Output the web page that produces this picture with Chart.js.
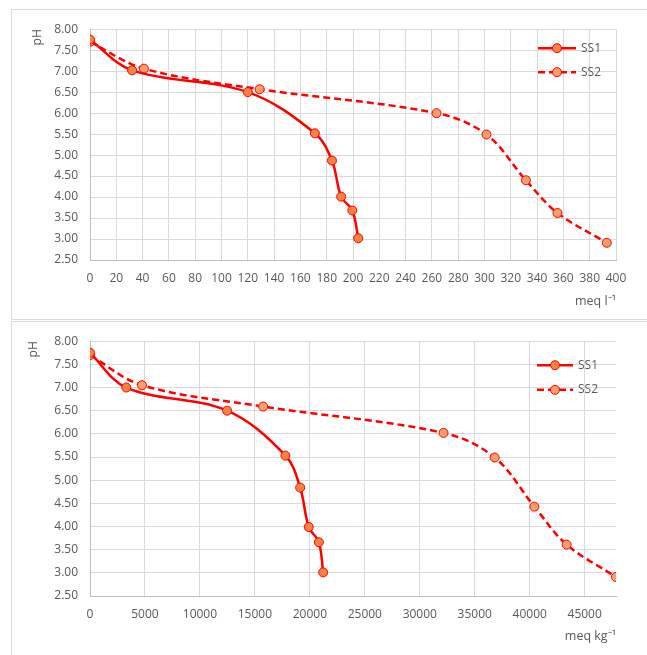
<!DOCTYPE html>
<html>
<head>
<meta charset="utf-8">
<script src="https://cdn.jsdelivr.net/npm/chart.js@4"></script>
<style>
  html, body { margin: 0; padding: 0; background: #fff; overflow: hidden; }
  body { width: 647px; height: 655px; position: relative; }
  .panel { position: absolute; left: 11px; width: 650px; border: 1px solid #d9d9d9; box-sizing: border-box; }
  #p1 { top: 9px; height: 311px; }
  #p2 { top: 321px; height: 340px; }
  canvas { position: absolute; }
  #c1 { left: 12px; top: 10px; }
  #c2 { left: 12px; top: 322px; }
</style>
</head>
<body>
<div class="panel" id="p1"></div>
<div class="panel" id="p2"></div>
<canvas id="c1" width="635" height="308"></canvas>
<canvas id="c2" width="635" height="333"></canvas>
<script>
"use strict";
// titration curves, meq per litre
const ss1LitreX = [0, 32, 120, 171, 184, 191, 199.5, 204];
const ss1LitrePH = [7.75, 7.02, 6.5, 5.52, 4.87, 4.01, 3.68, 3.02];
const ss2LitreX = [0, 41, 129, 263.5, 301.5, 331.5, 355.5, 393];
const ss2LitrePH = [7.7, 7.06, 6.57, 6.0, 5.49, 4.4, 3.62, 2.91];

// same curves, meq per kg
const ss1KgX = [0, 3300, 12470, 17780, 19120, 19900, 20820, 21210];
const ss1KgPH = [7.75, 7.0, 6.5, 5.53, 4.84, 3.99, 3.66, 3.01];
const ss2KgX = [0, 4730, 15750, 32160, 36810, 40420, 43360, 47850];
const ss2KgPH = [7.7, 7.05, 6.59, 6.02, 5.49, 4.43, 3.61, 2.91];

const seriesNames = ["SS1", "SS2"];
const yTicks = [2.5, 3, 3.5, 4, 4.5, 5, 5.5, 6, 6.5, 7, 7.5, 8];
const xTicksLitre = [0, 20, 40, 60, 80, 100, 120, 140, 160, 180, 200, 220, 240, 260, 280, 300, 320, 340, 360, 380, 400];
const xTicksKg = [0, 5000, 10000, 15000, 20000, 25000, 30000, 35000, 40000, 45000];

const FONT = "'Open Sans', 'Liberation Sans', sans-serif";
const TEXT = "#595959";
const GRID = "#d9d9d9";

const toPoints = (xs, ys) => xs.map((x, i) => ({ x: x, y: ys[i] }));

const insideLegend = {
  id: "insideLegend",
  afterDraw(chart, args, opts) {
    const ctx = chart.ctx;
    const area = chart.chartArea;
    chart.data.datasets.forEach((ds, i) => {
      const y = area.top + opts.top + i * opts.gap;
      const x0 = area.right - opts.lineStart;
      const x1 = x0 + opts.lineLen;
      ctx.save();
      ctx.strokeStyle = ds.borderColor;
      ctx.lineWidth = ds.borderWidth;
      ctx.setLineDash(ds.borderDash || []);
      ctx.beginPath();
      ctx.moveTo(x0, y);
      ctx.lineTo(x1, y);
      ctx.stroke();
      ctx.setLineDash([]);
      ctx.beginPath();
      ctx.arc((x0 + x1) / 2, y, ds.pointRadius, 0, Math.PI * 2);
      ctx.fillStyle = ds.pointBackgroundColor;
      ctx.fill();
      ctx.lineWidth = 1;
      ctx.strokeStyle = ds.pointBorderColor;
      ctx.stroke();
      ctx.fillStyle = TEXT;
      ctx.font = "12px " + FONT;
      ctx.textBaseline = "middle";
      ctx.textAlign = "left";
      ctx.fillText(ds.label, x1 + 5, y);
      ctx.restore();
    });
  },
};

const makeDatasets = (ss1, ss2) => [
  {
    label: seriesNames[0],
    data: ss1,
    borderColor: "#ff0000",
    borderWidth: 2.5,
    pointRadius: 4.5,
    pointBackgroundColor: "#f5823f",
    pointBorderColor: "#ff0000",
    pointBorderWidth: 1,
    tension: 0.35,
  },
  {
    label: seriesNames[1],
    data: ss2,
    borderColor: "#ff0000",
    borderWidth: 2.5,
    borderDash: [7, 4],
    pointRadius: 4.5,
    pointBackgroundColor: "#f9a06a",
    pointBorderColor: "#ff0000",
    pointBorderWidth: 1,
    tension: 0.35,
  },
];

const makeChart = (canvasId, ss1, ss2, cfg) =>
  new Chart(document.getElementById(canvasId), {
    type: "line",
    data: { datasets: makeDatasets(ss1, ss2) },
    plugins: [insideLegend],
    options: {
      responsive: false,
      animation: false,
      layout: { padding: { top: cfg.padTop, right: 31, left: 0, bottom: 0 } },
      plugins: {
        legend: { display: false },
        tooltip: { enabled: false },
        insideLegend: cfg.legend,
      },
      scales: {
        x: {
          type: "linear",
          min: 0,
          max: cfg.xMax,
          afterBuildTicks: (s) => { s.ticks = cfg.xTicks.map((v) => ({ value: v })); },
          afterFit: (s) => { s.height = cfg.xHeight; },
          grid: { color: GRID, drawTicks: false },
          border: { color: "#bfbfbf" },
          ticks: {
            color: TEXT,
            font: { family: FONT, size: 12 },
            padding: 11,
            maxRotation: 0,
            autoSkip: false,
            callback: (v) => String(v),
          },
          title: {
            display: true,
            text: cfg.xTitle,
            align: "end",
            color: TEXT,
            font: { family: FONT, size: 12.5 },
            padding: { top: 0, bottom: cfg.xTitlePad },
          },
        },
        y: {
          min: 2.5,
          max: 8,
          afterBuildTicks: (s) => { s.ticks = yTicks.map((v) => ({ value: v })); },
          afterFit: (s) => { s.width = 78; },
          grid: { color: GRID, drawTicks: false },
          border: { color: "#bfbfbf" },
          ticks: { color: TEXT, font: { family: FONT, size: 12 }, padding: 12, callback: (v) => v.toFixed(2) },
          title: {
            display: true,
            text: "pH",
            align: "end",
            color: TEXT,
            font: { family: FONT, size: 12 },
            padding: { top: cfg.yTitlePad, bottom: 0 },
          },
        },
      },
    },
  });

makeChart("c1", toPoints(ss1LitreX, ss1LitrePH), toPoints(ss2LitreX, ss2LitrePH), {
  padTop: 15,
  xMax: 400,
  xTicks: xTicksLitre,
  xHeight: 58,
  xTitle: "meq l\u207B\u00B9",
  xTitlePad: 9,
  yTitlePad: 18,
  legend: { top: 19, gap: 24, lineStart: 78, lineLen: 38 },
});

makeChart("c2", toPoints(ss1KgX, ss1KgPH), toPoints(ss2KgX, ss2KgPH), {
  padTop: 15,
  xMax: 47850,
  xTicks: xTicksKg,
  xHeight: 59,
  xTitle: "meq kg\u207B\u00B9",
  xTitlePad: 11,
  yTitlePad: 14,
  legend: { top: 24, gap: 24.6, lineStart: 79, lineLen: 36 },
});
</script>
</body>
</html>
